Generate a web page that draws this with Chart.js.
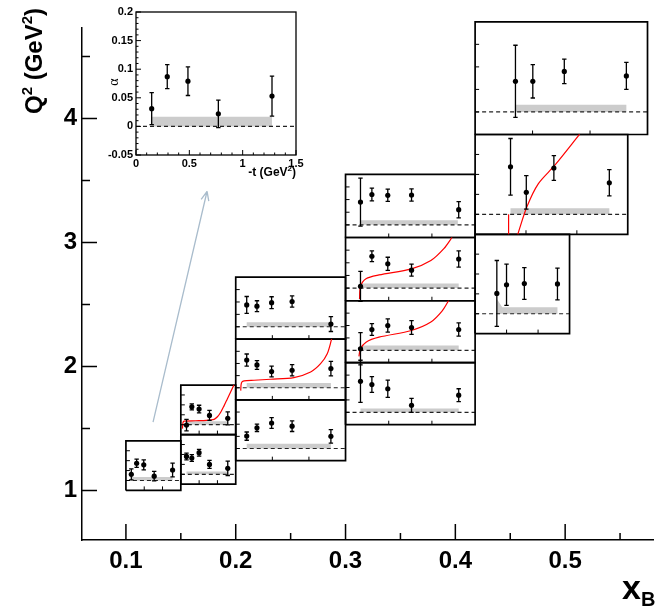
<!DOCTYPE html>
<html>
<head>
<meta charset="utf-8">
<script src="https://cdn.jsdelivr.net/npm/chart.js@4.4.1/dist/chart.umd.min.js"></script>
<style>
  html, body { margin: 0; padding: 0; background: #fff; overflow: hidden; }
  #wrap { position: relative; width: 657px; height: 607px; }
  #main { position: absolute; left: 0; top: 0; }
  #inset { position: absolute; left: 90px; top: 0; }
</style>
</head>
<body>
<div id="wrap">
  <canvas id="main" width="657" height="607"></canvas>
  <canvas id="inset" width="220" height="185"></canvas>
</div>
<script>
// ---------- data ----------
// edges of every small panel on the main axes (xB and Q2)
const panelXB = [
  [0.10, 0.15],
  [0.15, 0.20], [0.15, 0.20],
  [0.20, 0.30], [0.20, 0.30], [0.20, 0.30],
  [0.30, 0.418], [0.30, 0.418], [0.30, 0.418], [0.30, 0.418],
  [0.418, 0.504], [0.418, 0.557], [0.418, 0.575]
];
const panelQ2 = [
  [1.00, 1.40],
  [1.05, 1.45], [1.45, 1.85],
  [1.24, 1.73], [1.73, 2.22], [2.22, 2.72],
  [1.53, 2.03], [2.03, 2.53], [2.53, 3.04], [3.04, 3.55],
  [2.265, 3.066], [3.066, 3.871], [3.871, 4.78]
];

// every panel shows alpha against -t on the same ranges
const tRange = [0, 1.5];
const alphaRange = [-0.05, 0.2];

// -t of the points in each panel
const panelT = [
  [0.147, 0.293, 0.487, 0.772, 1.275],
  [0.155, 0.300, 0.499, 0.783, 1.282],
  [0.155, 0.300, 0.499, 0.783, 1.282],
  [0.15, 0.29, 0.49, 0.77, 1.30],
  [0.15, 0.29, 0.49, 0.77, 1.30],
  [0.15, 0.29, 0.49, 0.77, 1.30],
  [0.173, 0.305, 0.489, 0.764, 1.31],
  [0.173, 0.305, 0.489, 0.764, 1.31],
  [0.173, 0.305, 0.489, 0.764, 1.31],
  [0.173, 0.305, 0.489, 0.764, 1.31],
  [0.345, 0.499, 0.782, 1.308],
  [0.348, 0.503, 0.774, 1.319],
  [0.351, 0.502, 0.776, 1.316]
];
// measured alpha
const panelAlpha = [
  [0.031, 0.087, 0.079, 0.022, 0.053],
  [0.090, 0.082, 0.109, 0.050, 0.030],
  [-0.002, 0.090, 0.079, 0.047, 0.032],
  [0.051, 0.085, 0.105, 0.092, 0.050],
  [0.114, 0.094, 0.067, 0.072, 0.079],
  [0.088, 0.083, 0.097, 0.102, 0.011],
  [0.125, 0.112, 0.095, 0.028, 0.069],
  [0.006, 0.084, 0.100, 0.092, 0.084],
  [0.007, 0.126, 0.096, 0.071, 0.115],
  [0.090, 0.120, 0.117, 0.118, 0.060],
  [0.051, 0.073, 0.076, 0.075],
  [0.119, 0.055, 0.116, 0.079],
  [0.068, 0.068, 0.090, 0.080]
];
// statistical errors
const panelErr = [
  [0.028, 0.021, 0.025, 0.024, 0.035],
  [0.017, 0.017, 0.017, 0.020, 0.036],
  [0.029, 0.015, 0.019, 0.025, 0.033],
  [0.017, 0.015, 0.022, 0.022, 0.028],
  [0.025, 0.018, 0.022, 0.023, 0.030],
  [0.034, 0.022, 0.024, 0.023, 0.030],
  [0.085, 0.032, 0.035, 0.028, 0.026],
  [0.065, 0.024, 0.027, 0.028, 0.027],
  [0.059, 0.021, 0.026, 0.024, 0.032],
  [0.095, 0.025, 0.024, 0.024, 0.032],
  [0.083, 0.052, 0.040, 0.040],
  [0.071, 0.042, 0.031, 0.033],
  [0.080, 0.037, 0.027, 0.030]
];
// upper edge of the grey systematic band, as [-t, alpha] corners (band starts at alpha = 0)
const panelBand = [
  [[0.147, 0.017], [1.275, 0.017]],
  [[0.155, 0.014], [1.282, 0.014]],
  [[0.155, 0.017], [1.282, 0.017]],
  [[0.15, 0.020], [1.30, 0.020]],
  [[0.15, 0.020], [1.30, 0.020]],
  [[0.15, 0.018], [1.30, 0.018]],
  [[0.173, 0.015], [1.31, 0.015]],
  [[0.173, 0.019], [1.31, 0.019]],
  [[0.173, 0.018], [1.31, 0.018]],
  [[0.173, 0.018], [1.30, 0.018]],
  [[0.345, 0.038], [0.43, 0.016], [1.308, 0.016]],
  [[0.348, 0.015], [1.319, 0.015]],
  [[0.351, 0.016], [1.316, 0.016]]
];

// red model curves and the panel each one sits in
const curvePanel = [2, 4, 7, 8, 11, 11];
const curveT = [
  [0.045, 0.06, 0.09, 0.40, 0.70, 0.91, 1.00, 1.09, 1.18, 1.27, 1.36, 1.45],
  [0.068, 0.078, 0.114, 0.25, 0.477, 0.795, 1.023, 1.159, 1.25, 1.31],
  [0.155, 0.173, 0.237, 0.387, 0.763, 0.988, 1.117, 1.193],
  [0.162, 0.173, 0.237, 0.387, 0.763, 0.988, 1.138, 1.232],
  [0.419, 0.509, 0.622, 0.784, 1.026],
  [0.329, 0.329]
];
const curveAlpha = [
  [-0.02, 0.012, 0.018, 0.020, 0.022, 0.027, 0.040, 0.063, 0.095, 0.130, 0.165, 0.200],
  [-0.012, 0.020, 0.028, 0.031, 0.035, 0.042, 0.065, 0.099, 0.140, 0.200],
  [-0.024, 0.006, 0.033, 0.053, 0.080, 0.114, 0.158, 0.200],
  [-0.043, 0.007, 0.037, 0.052, 0.076, 0.109, 0.156, 0.200],
  [-0.05, 0.019, 0.077, 0.123, 0.200],
  [-0.05, 0.0]
];

// main axes ticks
const xbTicks = [0.1, 0.15, 0.2, 0.25, 0.3, 0.35, 0.4, 0.45, 0.5, 0.55];
const xbMajor = [0.1, 0.2, 0.3, 0.4, 0.5];
const q2Ticks = [1, 1.5, 2, 2.5, 3, 3.5, 4, 4.5];

// the enlarged inset repeats the first panel
const insetPanel = 0;
const insetTTicks = [0, 0.5, 1, 1.5];
const insetAlphaTicks = [-0.05, 0, 0.05, 0.1, 0.15, 0.2];

// arrow from the first panel up to the inset, in xB / Q2
const arrowFrom = { x: 0.1247, y: 1.551 };
const arrowTo = { x: 0.1739, y: 3.413 };

const FONT = 'Liberation Sans';

// ---------- helpers ----------
// Map a point of panel p (-t, alpha) onto the main xB / Q2 axes
function toMain(p, t, a) {
  const [x0, x1] = panelXB[p];
  const [q0, q1] = panelQ2[p];
  return {
    x: x0 + (t - tRange[0]) / (tRange[1] - tRange[0]) * (x1 - x0),
    y: q0 + (a - alphaRange[0]) / (alphaRange[1] - alphaRange[0]) * (q1 - q0)
  };
}
function identity(p, t, a) { return { x: t, y: a }; }

// Text with super/subscripts, drawn piece by piece
function drawRich(ctx, parts, x, y) {
  let cx = x;
  parts.forEach(part => {
    ctx.font = 'bold ' + part.size + 'px "' + FONT + '"';
    ctx.fillText(part.text, cx, y + (part.dy || 0));
    cx += ctx.measureText(part.text).width;
  });
  return cx - x;
}
function richWidth(ctx, parts) {
  let w = 0;
  parts.forEach(part => {
    ctx.font = 'bold ' + part.size + 'px "' + FONT + '"';
    w += ctx.measureText(part.text).width;
  });
  return w;
}

// Build the datasets (zero line, band, points) of panel p using the given mapping
function panelDatasets(p, map) {
  const sets = [];
  // dashed alpha = 0 line
  sets.push({
    data: [map(p, tRange[0], 0), map(p, tRange[1], 0)],
    showLine: true, borderColor: '#222', borderWidth: 1.2, borderDash: [4, 3],
    pointRadius: 0, clip: false, order: 3
  });
  // grey systematic band
  const edge = panelBand[p];
  const poly = edge.map(([t, a]) => map(p, t, a));
  poly.push(map(p, edge[edge.length - 1][0], 0), map(p, edge[0][0], 0), poly[0]);
  sets.push({
    data: poly, showLine: true, borderColor: 'rgba(0,0,0,0)', borderWidth: 0,
    backgroundColor: '#cccccc', fill: 'shape', pointRadius: 0, clip: false, order: 4
  });
  // points with error bars
  sets.push({
    data: panelT[p].map((t, i) => map(p, t, panelAlpha[p][i])),
    errorBars: panelT[p].map((t, i) => [
      map(p, t, panelAlpha[p][i] - panelErr[p][i]).y,
      map(p, t, panelAlpha[p][i] + panelErr[p][i]).y
    ]),
    showLine: false, pointRadius: 2.6, pointBorderWidth: 0,
    pointBackgroundColor: '#000', clip: false, order: 0
  });
  return sets;
}

// ---------- plugins ----------
const errorBars = {
  id: 'errorBars',
  afterDatasetsDraw(chart) {
    const ctx = chart.ctx;
    const yScale = chart.scales.y;
    ctx.save();
    ctx.strokeStyle = '#000';
    ctx.lineWidth = 1.3;
    chart.data.datasets.forEach((ds, i) => {
      if (!ds.errorBars) return;
      chart.getDatasetMeta(i).data.forEach((pt, j) => {
        const lo = yScale.getPixelForValue(ds.errorBars[j][0]);
        const hi = yScale.getPixelForValue(ds.errorBars[j][1]);
        ctx.beginPath();
        ctx.moveTo(pt.x, lo); ctx.lineTo(pt.x, hi);
        ctx.moveTo(pt.x - 2.2, lo); ctx.lineTo(pt.x + 2.2, lo);
        ctx.moveTo(pt.x - 2.2, hi); ctx.lineTo(pt.x + 2.2, hi);
        ctx.stroke();
      });
    });
    ctx.restore();
  }
};

// ticks of the main axes point inwards, and the small ticks on every panel frame
const mainDecor = {
  id: 'mainDecor',
  afterDatasetsDraw(chart) {
    const { ctx, chartArea, scales: { x, y } } = chart;
    ctx.save();
    ctx.strokeStyle = '#000';
    ctx.lineWidth = 1.5;
    ctx.beginPath();
    xbTicks.forEach(v => {
      const px = x.getPixelForValue(v);
      const len = xbMajor.includes(v) ? 16 : 7;
      ctx.moveTo(px, chartArea.bottom); ctx.lineTo(px, chartArea.bottom - len);
    });
    q2Ticks.forEach(v => {
      const py = y.getPixelForValue(v);
      const len = Number.isInteger(v) ? 15 : 8;
      ctx.moveTo(chartArea.left, py); ctx.lineTo(chartArea.left + len, py);
    });
    ctx.stroke();

    // panel frame ticks
    ctx.lineWidth = 1;
    ctx.beginPath();
    panelXB.forEach((xb, p) => {
      const left = x.getPixelForValue(xb[0]);
      const bottom = y.getPixelForValue(panelQ2[p][0]);
      [0, 0.05, 0.1, 0.15].forEach(a => {
        const py = y.getPixelForValue(toMain(p, 0, a).y);
        ctx.moveTo(left, py); ctx.lineTo(left + 4, py);
      });
      [0.5, 1.0].forEach(t => {
        const px = x.getPixelForValue(toMain(p, t, 0).x);
        ctx.moveTo(px, bottom); ctx.lineTo(px, bottom - 4);
      });
    });
    ctx.stroke();

    // arrow towards the enlarged inset
    const ax0 = x.getPixelForValue(arrowFrom.x), ay0 = y.getPixelForValue(arrowFrom.y);
    const ax1 = x.getPixelForValue(arrowTo.x), ay1 = y.getPixelForValue(arrowTo.y);
    const ang = Math.atan2(ay1 - ay0, ax1 - ax0);
    ctx.strokeStyle = '#a9bccc';
    ctx.lineWidth = 1.3;
    ctx.beginPath();
    ctx.moveTo(ax0, ay0); ctx.lineTo(ax1, ay1);
    [0.4, -0.4].forEach(d => {
      ctx.moveTo(ax1, ay1);
      ctx.lineTo(ax1 - 10 * Math.cos(ang + d), ay1 - 10 * Math.sin(ang + d));
    });
    ctx.stroke();
    ctx.restore();
  },
  afterDraw(chart) {
    const ctx = chart.ctx;
    ctx.save();
    ctx.fillStyle = '#000';
    ctx.textBaseline = 'alphabetic';
    // y title, rotated
    const yTitle = [
      { text: 'Q', size: 24 }, { text: '2', size: 15, dy: -10 },
      { text: ' (GeV', size: 24 }, { text: '2', size: 15, dy: -10 }, { text: ')', size: 24 }
    ];
    const w = richWidth(ctx, yTitle);
    ctx.translate(42, 8 + w);
    ctx.rotate(-Math.PI / 2);
    drawRich(ctx, yTitle, 0, 0);
    ctx.setTransform(1, 0, 0, 1, 0, 0);
    ctx.scale(chart.currentDevicePixelRatio, chart.currentDevicePixelRatio);
    // x title
    drawRich(ctx, [{ text: 'x', size: 34 }, { text: 'B', size: 20, dy: 7 }], 622, 599);
    ctx.restore();
  }
};

// frame, inward ticks and titles of the inset
const insetDecor = {
  id: 'insetDecor',
  afterDraw(chart) {
    const { ctx, chartArea: a, scales: { x, y } } = chart;
    ctx.save();
    ctx.strokeStyle = '#000';
    ctx.lineWidth = 1.3;
    ctx.strokeRect(a.left, a.top, a.right - a.left, a.bottom - a.top);
    ctx.lineWidth = 1;
    ctx.beginPath();
    for (let k = 0; k <= 25; k++) {
      const v = alphaRange[0] + k * 0.01;
      const py = y.getPixelForValue(v);
      const len = k % 5 === 0 ? 5 : 2.5;
      ctx.moveTo(a.left, py); ctx.lineTo(a.left + len, py);
    }
    for (let k = 0; k <= 15; k++) {
      const px = x.getPixelForValue(k * 0.1);
      const len = k % 5 === 0 ? 5 : 2.5;
      ctx.moveTo(px, a.bottom); ctx.lineTo(px, a.bottom - len);
    }
    ctx.stroke();

    ctx.fillStyle = '#000';
    // alpha title
    ctx.save();
    ctx.translate(24, 82);
    ctx.rotate(-Math.PI / 2);
    ctx.font = '14px "Liberation Serif"';
    ctx.textAlign = 'center';
    ctx.fillText('α', 0, 4);
    ctx.restore();
    // -t title
    const tTitle = [{ text: '-t (GeV', size: 12 }, { text: '2', size: 8, dy: -5 }, { text: ')', size: 12 }];
    drawRich(ctx, tTitle, a.right - richWidth(ctx, tTitle), 176);
    ctx.restore();
  }
};

// ---------- main chart ----------
const mainSets = [];
panelXB.forEach((xb, p) => {
  const [x0, x1] = xb;
  const [q0, q1] = panelQ2[p];
  mainSets.push({
    data: [{ x: x0, y: q0 }, { x: x1, y: q0 }, { x: x1, y: q1 }, { x: x0, y: q1 }, { x: x0, y: q0 }],
    showLine: true, borderColor: '#000', borderWidth: 1.7, pointRadius: 0, clip: false, order: 2
  });
  mainSets.push(...panelDatasets(p, toMain));
});
curvePanel.forEach((p, c) => {
  mainSets.push({
    data: curveT[c].map((t, i) => toMain(p, t, curveAlpha[c][i])),
    showLine: true, borderColor: '#ff0000', borderWidth: 1.2, tension: 0.3,
    pointRadius: 0, clip: false, order: 1
  });
});

const tickFont = { family: FONT, size: 24, weight: 'bold' };

new Chart(document.getElementById('main'), {
  type: 'scatter',
  data: { datasets: mainSets },
  options: {
    responsive: false,
    animation: false,
    events: [],
    layout: { padding: { top: 28, right: 0, left: 0, bottom: 0 } },
    plugins: { legend: { display: false }, tooltip: { enabled: false } },
    scales: {
      x: {
        type: 'linear', min: 0.06, max: 0.58,
        grid: { display: false, drawTicks: false },
        border: { color: '#000', width: 1.5 },
        afterBuildTicks: s => { s.ticks = xbTicks.map(v => ({ value: v })); },
        afterFit: s => { s.height = 67; },
        ticks: {
          autoSkip: false, maxRotation: 0, padding: 7, color: '#000', font: tickFont,
          callback: v => xbMajor.includes(v) ? v.toFixed(1) : ''
        }
      },
      y: {
        type: 'linear', min: 0.6, max: 4.73,
        grid: { display: false, drawTicks: false },
        border: { color: '#000', width: 1.5 },
        afterBuildTicks: s => { s.ticks = q2Ticks.map(v => ({ value: v })); },
        afterFit: s => { s.width = 82; },
        ticks: {
          autoSkip: false, padding: 5, color: '#000', font: tickFont,
          callback: v => Number.isInteger(v) ? String(v) : ''
        }
      }
    }
  },
  plugins: [errorBars, mainDecor]
});

// ---------- inset chart ----------
const insetFont = { family: FONT, size: 11, weight: 'bold' };

new Chart(document.getElementById('inset'), {
  type: 'scatter',
  data: { datasets: panelDatasets(insetPanel, identity) },
  options: {
    responsive: false,
    animation: false,
    events: [],
    layout: { padding: { top: 12, right: 14, left: 0, bottom: 0 } },
    plugins: { legend: { display: false }, tooltip: { enabled: false } },
    scales: {
      x: {
        type: 'linear', min: tRange[0], max: tRange[1],
        grid: { display: false, drawTicks: false },
        border: { display: false },
        afterBuildTicks: s => { s.ticks = insetTTicks.map(v => ({ value: v })); },
        afterFit: s => { s.height = 30; },
        ticks: { autoSkip: false, maxRotation: 0, padding: 2, color: '#000', font: insetFont, callback: v => String(v) }
      },
      y: {
        type: 'linear', min: alphaRange[0], max: alphaRange[1],
        grid: { display: false, drawTicks: false },
        border: { display: false },
        afterBuildTicks: s => { s.ticks = insetAlphaTicks.map(v => ({ value: v })); },
        afterFit: s => { s.width = 46; },
        ticks: { autoSkip: false, padding: 3, color: '#000', font: insetFont, callback: v => String(v) }
      }
    }
  },
  plugins: [errorBars, insetDecor]
});
</script>
</body>
</html>
